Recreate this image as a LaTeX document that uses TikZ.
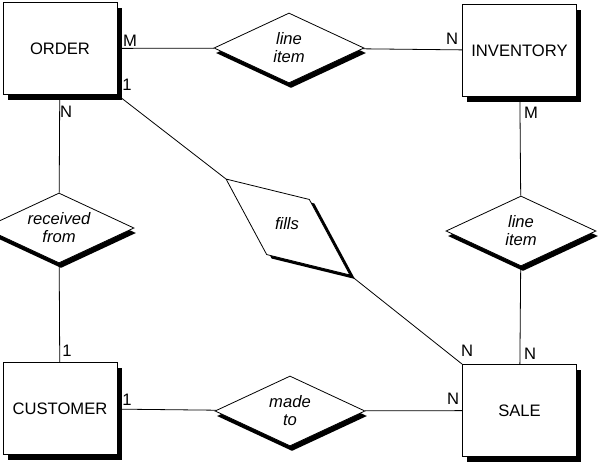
\documentclass[tikz,border=0pt]{standalone}
\usepackage{fontspec}
\setmainfont{Liberation Sans}
\usetikzlibrary{shapes.geometric,shadows}

\begin{document}
\begin{tikzpicture}[x=0.5pt,y=-0.5pt,
  entity/.style={draw,fill=white,minimum width=57pt,minimum height=46pt,inner sep=0pt,
    font=\fontsize{8.3}{9.5}\selectfont,
    drop shadow={shadow xshift=2.5pt,shadow yshift=-2.5pt,opacity=1,fill=black}},
  relship/.style={draw,fill=white,diamond,aspect=2.15,inner sep=0pt,minimum width=75pt,minimum height=35pt,
    align=center,font=\fontsize{8.3}{9}\selectfont\itshape,
    drop shadow={shadow xshift=1pt,shadow yshift=-2.5pt,opacity=1,fill=black}},
  reltext/.style={inner sep=0pt,font=\fontsize{8.3}{9}\selectfont\itshape},
  card/.style={inner sep=0pt,font=\fontsize{8.3}{9.5}\selectfont}]
\useasboundingbox (0,0) rectangle (602,463);
\clip (0,0) rectangle (602,463);

% entities
\node[entity] (order) at (60,48.5) {ORDER};
\node[entity] (inv) at (519.5,50.5) {INVENTORY};
\node[entity] (cust) at (60,408.5) {CUSTOMER};
\node[entity] (sale) at (519.5,410.5) {SALE};

% relationships
\node[relship] (li1) at (289,48) {line\\item};
\node[relship] (li2) at (521,231) {line\\item};
\node[relship] (rf) at (59,228) {received\\from};
\node[relship] (made) at (290,411) {made\\to};
\node[draw,fill=white,diamond,inner sep=0pt,minimum width=78.5pt,minimum height=35pt,rotate=-37.75,
  drop shadow={shadow xshift=2.5pt,shadow yshift=-2pt,opacity=1,fill=black}] (fills) at (288,227) {};
\node[reltext] (fillstxt) at (287,224) {fills};

% connectors
\draw (order) -- (li1) -- (inv);
\draw (order) -- (rf) -- (cust);
\draw (inv) -- (li2) -- (sale);
\draw (cust) -- (made) -- (sale);
\draw (order.south east) -- (fills.west);
\draw (fills.east) -- (sale.north west);

% cardinalities
\node[card] (cM1) at (130,41) {M};
\node[card] (c11) at (127,85) {1};
\node[card] (cN1) at (66,112) {N};
\node[card] (cN2) at (452,39) {N};
\node[card] (cM2) at (531,113) {M};
\node[card] (c12) at (67,351) {1};
\node[card] (c13) at (127,400) {1};
\node[card] (cN3) at (453,399) {N};
\node[card] (cN4) at (467,351) {N};
\node[card] (cN5) at (530,354) {N};
\end{tikzpicture}
\end{document}
